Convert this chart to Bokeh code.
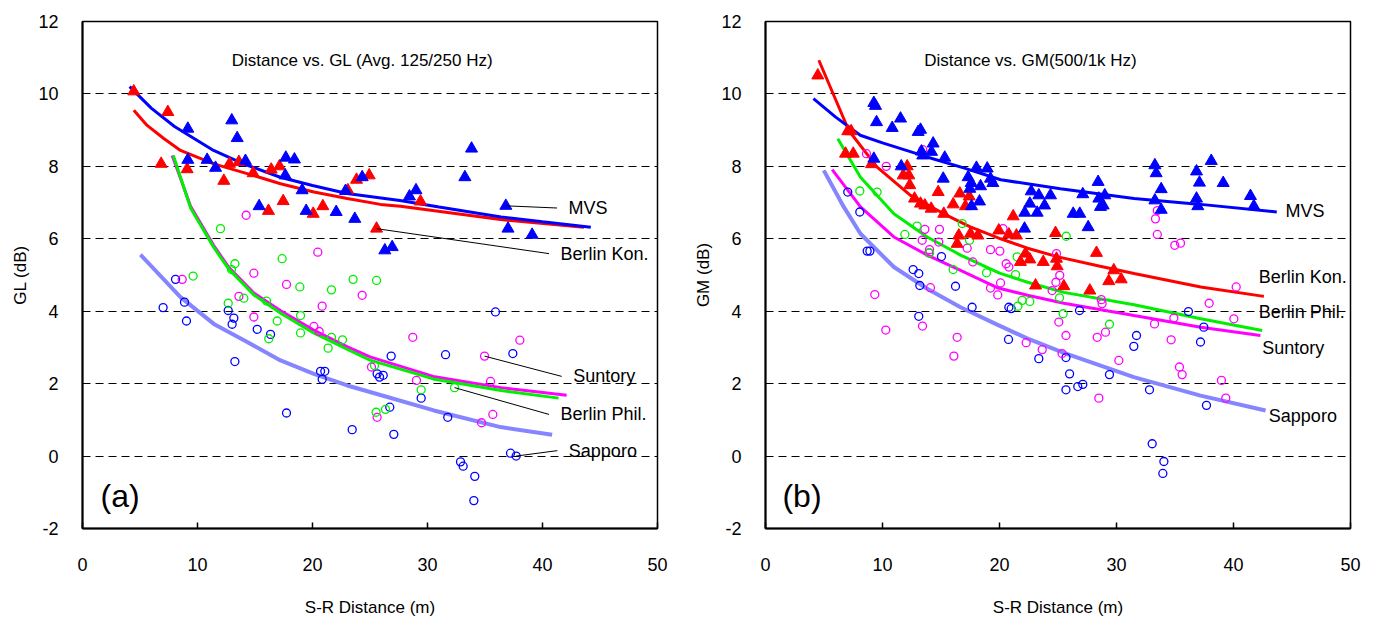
from bokeh.plotting import figure
from bokeh.layouts import row
from bokeh.models import FixedTicker, Label, Range1d
from bokeh.embed import file_html
from bokeh.resources import INLINE

# ---------------- data: panel (a) Distance vs. GL ----------------
gl_mvs_d = [9.16, 12.98, 13.45, 9.16, 10.84, 11.57, 14.17, 17.63, 17.68, 18.43, 15.36, 19.1, 19.45, 22.06,
            22.87, 23.68, 24.32, 26.29, 26.93, 28.43, 29.0, 33.25, 33.83, 36.81, 37.0, 39.1]
gl_mvs_v = [9.04, 9.27, 8.78, 8.18, 8.18, 7.96, 8.15, 7.75, 8.24, 8.19, 6.9, 7.34, 6.77, 6.74,
            7.32, 6.55, 7.7, 5.68, 5.77, 7.17, 7.34, 7.7, 8.49, 6.91, 6.28, 6.11]
gl_bk_d = [4.46, 7.42, 6.84, 9.1, 12.29, 12.78, 13.6, 14.84, 16.41, 17.13, 17.45, 16.17, 20.06, 20.9,
           23.07, 23.83, 24.93, 25.57, 29.39]
gl_bk_v = [10.07, 9.5, 8.07, 7.92, 7.6, 8.07, 8.12, 7.81, 7.91, 8.0, 7.04, 6.77, 6.69, 6.9,
           7.34, 7.63, 7.75, 6.28, 7.03]
gl_sun_d = [14.23, 14.9, 20.46, 8.67, 17.74, 24.32, 13.6, 14.9, 20.84, 20.12, 20.58, 25.13, 25.62, 28.72,
            38.03, 34.96, 29.04, 35.48, 35.68, 34.7]
gl_sun_v = [6.65, 5.05, 5.63, 4.88, 4.74, 4.44, 4.41, 3.84, 4.14, 3.58, 3.44, 2.46, 1.07, 3.28,
            3.2, 2.76, 2.09, 2.06, 1.15, 0.92]
gl_bp_d = [12.0, 13.25, 17.36, 23.53, 25.57, 9.62, 12.96, 18.9, 21.65, 12.67, 14.03, 16.0, 16.93, 16.2,
           18.96, 18.96, 21.65, 22.61, 21.36, 25.39, 25.53, 29.45, 32.35, 26.35]
gl_bp_v = [6.28, 5.31, 5.45, 4.88, 4.85, 4.97, 5.15, 4.67, 4.59, 4.22, 4.36, 4.28, 3.73, 3.24,
           3.88, 3.4, 3.28, 3.21, 2.98, 2.5, 1.21, 1.83, 1.89, 1.29]
gl_sap_d = [8.09, 7.01, 8.87, 9.04, 12.67, 13.16, 13.01, 15.19, 16.35, 13.25, 20.7, 21.07, 20.84, 25.62,
            26.15, 25.83, 17.74, 23.45, 35.91, 26.84, 31.57, 37.42, 29.45, 26.72, 31.76, 27.07, 37.22,
            37.71, 32.87, 33.1, 34.11, 34.03]
gl_sap_v = [4.88, 4.1, 4.25, 3.73, 4.02, 3.81, 3.64, 3.5, 3.36, 2.61, 2.34, 2.34, 2.12, 2.27,
            2.23, 2.18, 1.19, 0.73, 3.98, 2.76, 2.8, 2.83, 1.6, 1.35, 1.07, 0.6, 0.08,
            0.0, -0.16, -0.28, -0.56, -1.23]

# fitted curves (panel a)
gl_fit_mvs_d = [4.1, 6, 8, 11.4, 14, 17.2, 20, 23, 27.6, 31, 36.4, 40, 44.2]
gl_fit_mvs_v = [10.2, 9.6, 9.1, 8.44, 8.07, 7.7, 7.47, 7.25, 7.06, 6.88, 6.6, 6.47, 6.32]
gl_fit_bk_d = [4.46, 5.62, 7.07, 8.52, 11.42, 14.32, 17.22, 20.12, 23.02, 25.9, 27.65, 36.35, 43.6]
gl_fit_bk_v = [9.55, 9.13, 8.77, 8.44, 8.07, 7.8, 7.52, 7.29, 7.11, 6.95, 6.9, 6.53, 6.32]
gl_fit_bp_d = [7.9, 9.4, 11.4, 12.7, 14.9, 17.2, 20.1, 23.0, 25.0, 30.5, 36.4, 41.4]
gl_fit_bp_v = [8.3, 6.85, 5.77, 5.17, 4.45, 3.95, 3.4, 2.95, 2.65, 2.13, 1.81, 1.6]
gl_fit_sun_d = [7.8, 9.4, 11.4, 12.7, 14.9, 17.2, 20.1, 23.0, 25.0, 30.5, 36.4, 42.1]
gl_fit_sun_v = [8.3, 6.9, 5.82, 5.22, 4.5, 4.02, 3.48, 3.02, 2.74, 2.2, 1.89, 1.68]
gl_fit_sap_d = [5.04, 8.52, 11.42, 14.32, 17.22, 20.12, 23.02, 25.0, 30.55, 36.35, 40.84]
gl_fit_sap_v = [5.56, 4.39, 3.65, 3.15, 2.64, 2.27, 1.95, 1.77, 1.26, 0.8, 0.59]

# ---------------- data: panel (b) Distance vs. GM ----------------
gm_mvs_d = [9.26, 9.4, 9.49, 10.83, 11.54, 13.05, 13.25, 14.33, 13.33, 14.19, 13.44, 15.32, 9.26, 11.6,
            15.19, 18.03, 18.95, 17.32, 17.58, 18.38, 19.23, 19.43, 17.46, 17.61, 18.29, 22.71, 23.36,
            24.36, 22.59, 23.85, 22.16, 23.22, 22.14, 26.3, 26.86, 27.58, 27.12, 28.43, 28.49, 29.0,
            28.63, 28.86, 33.28, 33.39, 33.82, 33.28, 33.82, 36.84, 37.09, 38.1, 39.12, 36.84, 36.95,
            41.45, 41.74]
gm_mvs_v = [9.75, 9.67, 9.22, 9.06, 9.32, 8.95, 9.01, 8.63, 8.41, 8.4, 8.3, 8.24, 8.21, 8.0,
            7.66, 7.96, 7.94, 7.7, 7.54, 7.45, 7.66, 7.54, 7.38, 6.9, 7.03, 7.31, 7.2,
            7.2, 6.97, 6.92, 6.72, 6.72, 6.28, 6.69, 6.69, 6.32, 7.23, 7.57, 7.11, 7.2,
            6.88, 6.92, 8.03, 7.81, 7.37, 7.06, 6.8, 7.86, 7.55, 8.15, 7.54, 7.11, 6.9,
            7.18, 6.9]
gm_bk_d = [4.47, 7.03, 7.32, 6.84, 7.5, 9.06, 12.11, 11.77, 12.25, 12.33, 12.74, 13.25, 13.62, 14.16,
           14.76, 15.24, 16.04, 16.61, 17.41, 17.09, 16.52, 16.38, 17.52, 18.15, 19.94, 20.8, 21.45,
           21.17, 21.79, 22.59, 23.74, 22.22, 23.08, 24.79, 24.87, 24.93, 25.5, 28.29, 27.72, 29.77,
           29.34, 30.4]
gm_bk_v = [10.51, 8.97, 8.97, 8.35, 8.35, 8.06, 8.0, 7.75, 7.75, 7.48, 7.11, 6.97, 6.92, 6.83,
           7.29, 6.69, 6.95, 7.25, 7.17, 6.9, 6.09, 5.86, 6.14, 6.09, 6.23, 6.12, 6.09,
           6.62, 5.36, 5.43, 5.36, 5.59, 4.71, 6.16, 5.45, 5.24, 4.69, 5.61, 4.57, 5.13,
           4.83, 4.88]
gm_sun_d = [13.44, 8.63, 10.32, 13.62, 14.87, 13.39, 14.81, 17.24, 14.02, 13.96, 19.23, 20.03, 17.72,
            20.57, 20.8, 24.87, 24.82, 25.15, 20.09, 19.23, 19.85, 14.1, 9.34, 24.5, 10.28, 13.42,
            16.38, 16.1, 22.28, 23.65, 25.07, 20.3, 33.49, 33.33, 33.49, 34.98, 35.47, 40.23, 37.92,
            40.03, 34.9, 33.25, 28.7, 28.77, 29.06, 28.35, 34.67, 25.68, 30.2, 35.38, 35.61, 38.97,
            39.34, 28.49, 25.35]
gm_sun_v = [8.46, 8.35, 8.0, 6.26, 6.26, 5.96, 5.91, 5.74, 5.7, 5.61, 5.7, 5.66, 5.36,
            5.31, 5.22, 5.59, 4.8, 4.99, 4.78, 4.64, 4.45, 4.65, 4.46, 4.57, 3.48, 3.59,
            3.28, 2.76, 3.13, 2.94, 3.7, 6.28, 6.78, 6.55, 6.12, 5.82, 5.88, 4.67, 4.22,
            3.79, 3.81, 3.65, 4.32, 4.21, 3.42, 3.28, 3.21, 3.33, 2.64, 2.46, 2.25, 2.09,
            1.6, 1.6, 2.83]
gm_bp_d = [8.06, 9.54, 11.91, 12.96, 14.02, 16.81, 17.44, 16.04, 18.89, 21.51, 21.37, 21.94, 22.59,
           21.57, 25.13, 25.7, 25.44, 29.4]
gm_bp_v = [7.32, 7.29, 6.12, 6.35, 5.61, 6.42, 5.96, 5.15, 5.06, 5.5, 5.01, 4.3, 4.27,
           4.14, 4.37, 6.07, 3.93, 3.64]
gm_sap_d = [7.03, 8.06, 8.69, 8.92, 15.04, 12.62, 13.1, 13.19, 16.24, 17.66, 20.8, 21.0, 13.1, 20.77,
            23.36, 26.84, 36.15, 37.46, 31.71, 31.48, 37.18, 25.68, 25.99, 25.68, 26.69, 27.12, 29.4,
            32.82, 37.69, 33.05, 34.05, 33.96]
gm_sap_v = [7.29, 6.74, 5.66, 5.66, 5.51, 5.15, 5.04, 4.71, 4.69, 4.11, 4.11, 4.07, 3.86, 3.22,
            2.69, 4.02, 3.99, 3.56, 3.33, 3.03, 3.15, 2.72, 2.27, 1.83, 1.92, 1.98, 2.25,
            1.83, 1.4, 0.34, -0.15, -0.48]

# fitted curves (panel b)
gm_fit_mvs_d = [4.1, 6, 8.1, 10, 13.8, 17, 20.1, 25.2, 31.5, 37.2, 43.7]
gm_fit_mvs_v = [9.87, 9.36, 8.86, 8.65, 8.26, 7.95, 7.63, 7.38, 7.11, 6.95, 6.74]
gm_fit_bk_d = [4.56, 7.12, 9.54, 12.39, 15.24, 17.5, 20.1, 22.4, 25.0, 28.5, 31.5, 37.2, 42.6]
gm_fit_bk_v = [10.93, 8.99, 7.98, 7.2, 6.69, 6.33, 6.0, 5.74, 5.5, 5.25, 5.04, 4.67, 4.41]
gm_fit_bp_d = [6.18, 8.12, 10.97, 13.82, 16.67, 20.0, 22.4, 25.5, 31.5, 37.2, 42.45]
gm_fit_bp_v = [8.76, 7.7, 6.69, 6.05, 5.55, 5.05, 4.8, 4.52, 4.18, 3.79, 3.47]
gm_fit_sun_d = [5.7, 8.12, 10.97, 13.82, 16.67, 19.8, 22.4, 25.5, 31.5, 37.2, 42.3]
gm_fit_sun_v = [7.91, 6.88, 6.05, 5.55, 5.13, 4.65, 4.44, 4.22, 3.88, 3.56, 3.33]
gm_fit_sap_d = [4.98, 6.69, 8.12, 10.97, 13.82, 16.67, 19.8, 22.36, 25.5, 31.48, 37.18, 42.74]
gm_fit_sap_v = [7.89, 6.88, 6.14, 5.22, 4.62, 4.11, 3.63, 3.25, 2.85, 2.18, 1.67, 1.26]

x_ticks = [0, 10, 20, 30, 40, 50]
y_ticks = [-2, 0, 2, 4, 6, 8, 10, 12]
grid_ticks = [0, 2, 4, 6, 8, 10]

FONT = "Liberation Sans"
C_MVS = "#0000ff"
C_BK = "#ff0000"
C_BP = "#00ee00"
C_SUN = "#ff00ff"
C_SAP = "#0000ff"
C_SAPLINE = "#8585ff"


def make_fig(frame_w, left, right, ylabel):
    p = figure(frame_width=frame_w, frame_height=507, x_range=Range1d(0, 50), y_range=Range1d(-2, 12),
               output_backend="svg", toolbar_location=None, min_border_left=left,
               min_border_right=right, min_border_top=21, min_border_bottom=94)
    p.background_fill_color = "white"
    p.border_fill_color = "white"
    p.outline_line_color = "black"
    p.outline_line_width = 1.5
    p.xgrid.visible = False
    p.ygrid.ticker = FixedTicker(ticks=grid_ticks)
    p.ygrid.grid_line_color = "black"
    p.ygrid.grid_line_dash = "8 5"
    p.ygrid.grid_line_width = 1
    for ax in (p.xaxis[0], p.yaxis[0]):
        ax.axis_line_width = 2
        ax.axis_line_color = "black"
        ax.minor_tick_line_color = None
        ax.major_label_text_font = FONT
        ax.major_label_text_font_size = "18px"
        ax.major_label_text_color = "black"
        ax.axis_label_text_font = FONT
        ax.axis_label_text_font_size = "17px"
        ax.axis_label_text_font_style = "normal"
        ax.axis_label_text_color = "black"
    p.xaxis.ticker = FixedTicker(ticks=x_ticks)
    p.xaxis.major_tick_in = 6
    p.xaxis.major_tick_out = 0
    p.xaxis.major_tick_line_width = 1.5
    p.xaxis.major_label_standoff = 29
    p.xaxis.axis_label = "S-R Distance (m)"
    p.xaxis.axis_label_standoff = 24
    p.yaxis.ticker = FixedTicker(ticks=y_ticks)
    p.yaxis.major_label_overrides = {t: str(t) for t in y_ticks}
    p.yaxis.major_tick_in = 0
    p.yaxis.major_tick_out = 0
    p.yaxis.major_label_standoff = 24
    p.yaxis.axis_label = ylabel
    p.yaxis.axis_label_standoff = 5
    return p


def draw(p, fits, pts):
    for d, v, c, w in fits:
        p.line(d, v, line_color=c, line_width=w)
    for d, v, kind, c in pts:
        if kind == "tri":
            p.scatter(d, v, marker="triangle", size=12, fill_color=c, line_color=c)
        else:
            p.scatter(d, v, marker="circle", size=8, fill_color=None, line_color=c, line_width=1.3)


def label(p, x, y, text, size="18px", align="left"):
    p.add_layout(Label(x=x, y=y, text=text, text_font=FONT, text_font_size=size, text_color="black",
                       text_align=align, text_baseline="middle"))


# ---------------- panel (a) ----------------
pa = make_fig(575, 82, 33, "GL (dB)")
draw(pa,
     [(gl_fit_sap_d, gl_fit_sap_v, C_SAPLINE, 4), (gl_fit_sun_d, gl_fit_sun_v, C_SUN, 3),
      (gl_fit_bp_d, gl_fit_bp_v, C_BP, 3), (gl_fit_bk_d, gl_fit_bk_v, C_BK, 3),
      (gl_fit_mvs_d, gl_fit_mvs_v, C_MVS, 3)],
     [(gl_sap_d, gl_sap_v, "circ", C_SAP), (gl_sun_d, gl_sun_v, "circ", C_SUN),
      (gl_bp_d, gl_bp_v, "circ", C_BP), (gl_bk_d, gl_bk_v, "tri", C_BK),
      (gl_mvs_d, gl_mvs_v, "tri", C_MVS)])

# labels with leader lines (leader starts at a data point, ends just before the label)
a_labels = [
    ("MVS", 42.26, 6.85, gl_mvs_d[23], gl_mvs_v[23]),
    ("Berlin Kon.", 41.57, 5.59, gl_bk_d[17], gl_bk_v[17]),
    ("Suntory", 42.67, 2.2, gl_sun_d[15], gl_sun_v[15]),
    ("Berlin Phil.", 41.57, 1.15, gl_bp_d[22], gl_bp_v[22]),
    ("Sapporo", 42.29, 0.15, gl_sap_d[27], gl_sap_v[27]),
]
for text, tx, ty, px, py in a_labels:
    pa.line([px, tx - 1.0], [py, ty], line_color="black", line_width=1)
    label(pa, tx, ty, text)
label(pa, 24.35, 10.93, "Distance vs. GL (Avg. 125/250 Hz)", size="17px", align="center")
label(pa, 1.57, -1.09, "(a)", size="32px")

# ---------------- panel (b) ----------------
pb = make_fig(585, 75, 29, "GM (dB)")
draw(pb,
     [(gm_fit_sap_d, gm_fit_sap_v, C_SAPLINE, 4), (gm_fit_sun_d, gm_fit_sun_v, C_SUN, 3),
      (gm_fit_bp_d, gm_fit_bp_v, C_BP, 3), (gm_fit_bk_d, gm_fit_bk_v, C_BK, 3),
      (gm_fit_mvs_d, gm_fit_mvs_v, C_MVS, 3)],
     [(gm_sap_d, gm_sap_v, "circ", C_SAP), (gm_sun_d, gm_sun_v, "circ", C_SUN),
      (gm_bp_d, gm_bp_v, "circ", C_BP), (gm_bk_d, gm_bk_v, "tri", C_BK),
      (gm_mvs_d, gm_mvs_v, "tri", C_MVS)])
b_labels = [("MVS", 44.44, 6.76), ("Berlin Kon.", 42.16, 4.94), ("Berlin Phil.", 42.16, 3.98),
            ("Suntory", 42.45, 2.99), ("Sapporo", 43.02, 1.12)]
for text, tx, ty in b_labels:
    label(pb, tx, ty, text)
label(pb, 22.65, 10.93, "Distance vs. GM(500/1k Hz)", size="17px", align="center")
label(pb, 1.45, -1.09, "(b)", size="32px")

layout = row(pa, pb)
open("out.html", "w").write(file_html(layout, INLINE))
